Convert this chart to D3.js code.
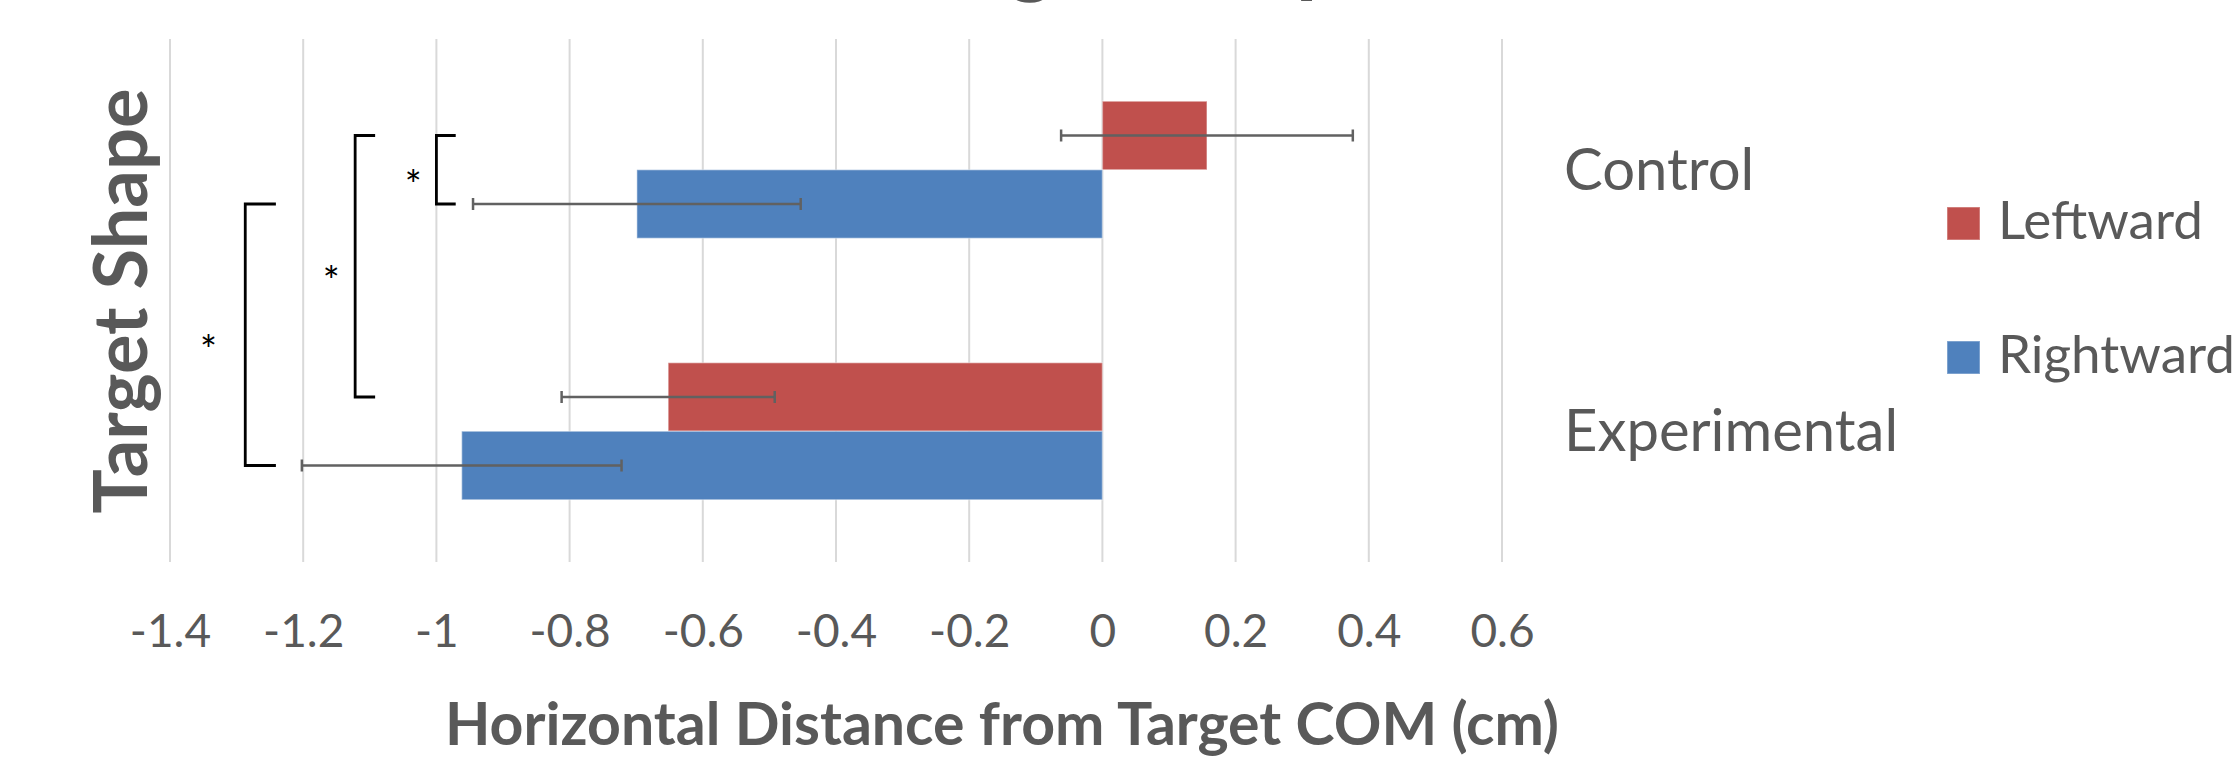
<!DOCTYPE html>
<html>
<head>
<meta charset="utf-8">
<script src="https://cdn.jsdelivr.net/npm/d3@7"></script>
<style>
  body { margin: 0; background: #fff; }
  text { font-family: Lato, "Open Sans", sans-serif; fill: #595959; }
</style>
</head>
<body>
<div id="chart"></div>
<script>
/* Horizontal bar chart: distance from target COM by target shape */

// chart data
const categories = ["Control", "Experimental"];
const series = ["Leftward", "Rightward"];
const leftward = [0.157, -0.652];
const rightward = [-0.699, -0.962];
const leftwardErr = [0.219, 0.160];
const rightwardErr = [0.246, 0.240];
const xTicks = [-1.4, -1.2, -1, -0.8, -0.6, -0.4, -0.2, 0, 0.2, 0.4, 0.6];

// significance brackets (x in cm, ends tied to bars)
const brackets = [
    { x: -1.0, arm: 0.029, top: ["Control", "Leftward"], bottom: ["Control", "Rightward"], label: "*" },
    { x: -1.122, arm: 0.030, top: ["Control", "Leftward"], bottom: ["Experimental", "Leftward"], label: "*" },
    { x: -1.287, arm: 0.046, top: ["Control", "Rightward"], bottom: ["Experimental", "Rightward"], label: "*" }
];

const colors = { Leftward: "#C0504D", Rightward: "#4F81BD" };

// build rows for drawing
const rows = [];
categories.forEach((c, i) => {
    rows.push({ cat: c, s: "Leftward", v: leftward[i], err: leftwardErr[i] });
    rows.push({ cat: c, s: "Rightward", v: rightward[i], err: rightwardErr[i] });
});

const width = 2233,
    height = 759,
    margin = ({ top: 39, right: 731, bottom: 197, left: 170 });

let svg = d3.select("#chart")
    .append("svg")
    .attr("width", width)
    .attr("height", height)
    .attr("viewBox", [0, 0, width, height]);

// scales
let x = d3.scaleLinear()
    .domain([-1.4, 0.6])
    .range([margin.left, width - margin.right]);

let y = d3.scaleBand()
    .domain(categories)
    .range([margin.top, height - margin.bottom])
    .paddingInner(0.476)
    .paddingOuter(0.238);

let ySub = d3.scaleBand()
    .domain(series)
    .range([0, y.bandwidth()]);

const yMid = (c, s) => y(c) + ySub(s) + ySub.bandwidth() / 2;

// chart title (mostly above the visible area)
svg.append("text")
    .attr("x", 1140)
    .attr("y", -14)
    .attr("text-anchor", "middle")
    .style("font-size", "88px")
    .style("font-weight", "bold")
    .text("Target Shape");

// gridlines
svg.append("g")
    .selectAll("line")
    .data(xTicks)
    .join("line")
    .attr("x1", d => x(d))
    .attr("x2", d => x(d))
    .attr("y1", margin.top)
    .attr("y2", height - margin.bottom)
    .attr("stroke", "#D9D9D9")
    .attr("stroke-width", 2);

// x axis tick labels
svg.append("g")
    .attr("transform", `translate(0,${height - margin.bottom})`)
    .call(d3.axisBottom(x).tickValues(xTicks).tickSize(0).tickPadding(52).tickFormat(d => String(d)))
    .call(g => g.select(".domain").remove())
    .call(g => g.selectAll("text").style("font-size", "46px").attr("fill", "#595959"));

// bars
let bar = svg.selectAll(".bar")
    .data(rows)
    .join("g")
    .attr("class", "bar");

bar.append("rect")
    .attr("fill", d => colors[d.s])
    .attr("stroke", "rgba(255,255,255,0.35)")
    .attr("stroke-width", 1.5)
    .attr("x", d => Math.min(x(0), x(d.v)))
    .attr("width", d => Math.abs(x(d.v) - x(0)))
    .attr("y", d => y(d.cat) + ySub(d.s))
    .attr("height", ySub.bandwidth());

// error bars
const errColor = "#616161";
bar.append("line")
    .attr("x1", d => x(d.v - d.err))
    .attr("x2", d => x(d.v + d.err))
    .attr("y1", d => yMid(d.cat, d.s))
    .attr("y2", d => yMid(d.cat, d.s))
    .attr("stroke", errColor)
    .attr("stroke-width", 2.5);

bar.selectAll(".cap")
    .data(d => [d.v - d.err, d.v + d.err].map(e => ({ e, ym: yMid(d.cat, d.s) })))
    .join("line")
    .attr("class", "cap")
    .attr("x1", d => x(d.e))
    .attr("x2", d => x(d.e))
    .attr("y1", d => d.ym - 6)
    .attr("y2", d => d.ym + 6)
    .attr("stroke", errColor)
    .attr("stroke-width", 2.5);

// significance brackets
let br = svg.selectAll(".bracket")
    .data(brackets)
    .join("g")
    .attr("class", "bracket");

br.append("path")
    .attr("fill", "none")
    .attr("stroke", "#000")
    .attr("stroke-width", 2.8)
    .attr("d", d => {
        const x0 = x(d.x), x1 = x(d.x + d.arm);
        const y0 = yMid(...d.top), y1 = yMid(...d.bottom);
        return `M${x1},${y0}H${x0}V${y1}H${x1}`;
    });

br.append("text")
    .attr("x", d => x(d.x - d.arm * 1.2))
    .attr("y", d => (yMid(...d.top) + yMid(...d.bottom)) / 2 + 30)
    .attr("text-anchor", "middle")
    .style("font-size", "40px")
    .style("fill", "#000")
    .text(d => d.label);

// category labels on the right
svg.append("g")
    .selectAll("text")
    .data(categories)
    .join("text")
    .attr("x", 1564)
    .attr("y", d => y(d) + y.bandwidth() / 2 + 20)
    .style("font-size", "58px")
    .text(d => d);

// legend
let legend = svg.append("g")
    .selectAll("g")
    .data(series)
    .join("g")
    .attr("transform", (d, i) => `translate(1947,${207 + i * 134})`);

legend.append("rect")
    .attr("width", 33)
    .attr("height", 33)
    .attr("fill", d => colors[d])
    .attr("stroke", "rgba(255,255,255,0.35)")
    .attr("stroke-width", 1.5);

legend.append("text")
    .attr("x", 51)
    .attr("y", 32)
    .style("font-size", "53px")
    .text(d => d);

// axis titles
svg.append("text")
    .attr("x", 1002)
    .attr("y", 745)
    .attr("text-anchor", "middle")
    .style("font-size", "59px")
    .style("font-weight", "bold")
    .text("Horizontal Distance from Target COM (cm)");

svg.append("text")
    .attr("transform", "translate(147,301) rotate(-90)")
    .attr("text-anchor", "middle")
    .style("font-size", "74px")
    .style("font-weight", "bold")
    .text("Target Shape");
</script>
</body>
</html>
